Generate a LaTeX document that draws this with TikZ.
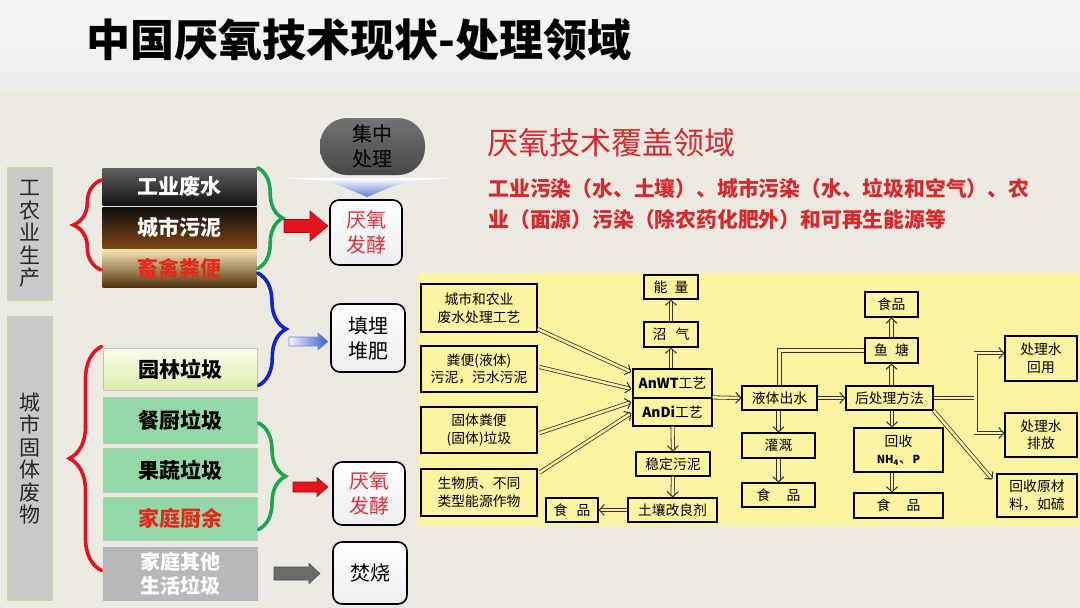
\documentclass[tikz,border=0pt]{standalone}
\usepackage{fontspec}
\setmainfont{Noto Sans CJK SC}
\usetikzlibrary{arrows.meta,decorations.pathreplacing,calc}
\newcommand{\myfs}[2]{\fontsize{#1}{#2}\selectfont}
\definecolor{bodybg}{HTML}{ECE9E2}
\definecolor{titletop}{HTML}{F6F6F5}
\definecolor{titlebot}{HTML}{EEEEEC}
\definecolor{sidegray}{HTML}{C9C9C9}
\definecolor{sideedge}{HTML}{C6D6A8}
\definecolor{bred}{HTML}{E3141E}
\definecolor{bgreen}{HTML}{1BA64E}
\definecolor{bblue}{HTML}{1424C8}
\definecolor{txtred}{HTML}{D42A2E}
\definecolor{panel}{HTML}{FAF4A2}
\definecolor{lgreen}{HTML}{93D8A6}
\definecolor{lgedge}{HTML}{B4CFA2}
\definecolor{fermred}{HTML}{E0303C}
\definecolor{catred}{HTML}{E42A1A}
\begin{document}
\begin{tikzpicture}[x=1pt,y=-1pt,
  sidebox/.style={draw=sideedge, line width=1.5pt, fill=sidegray, minimum width=44pt, inner sep=0pt, align=center, font=\myfs{21}{22.5}, text=black!85},
  catbox/.style={minimum width=154pt, inner sep=0pt, align=center, font=\myfs{21}{23}\bfseries},
  outbox/.style={draw=black, line width=1.6pt, rounded corners=9pt, top color=white, bottom color=black!7, inner sep=0pt, align=center, font=\myfs{20}{25}},
  flow/.style={draw=black, line width=1.2pt, fill=panel, inner sep=0pt, align=center, font=\myfs{13.8}{17.5}},
  dline/.style={draw=black!80, line width=0.8pt, double=panel, double distance=2.5pt},
  dar/.style={dline, -{Straight Barb[length=5pt, width=11pt, line width=1pt]}},
  bracedeco/.style={decorate, decoration={brace, amplitude=#1}, line width=3.6pt, line cap=round},
]
% backgrounds
\fill[bodybg] (0,0) rectangle (1080,608);
\shade[top color=titletop, bottom color=titlebot] (0,0) rectangle (1080,88);
\useasboundingbox (0,0) rectangle (1080,608);

\node[font=\myfs{44}{48}\bfseries] (title) at (359,40) {中国厌氧技术现状-处理领域};

% left side labels
\node[sidebox, minimum height=132pt] (agri) at (30,234) {工\\农\\业\\生\\产};
\node[sidebox, minimum height=283pt] (city) at (30,458.5) {城\\市\\固\\体\\废\\物};

% category boxes
\node[catbox, minimum height=37pt, top color=black!62, bottom color=black!92, text=white] (w1) at (179.5,186.5) {工业废水};
\node[catbox, minimum height=41pt, top color=black!95, bottom color={rgb,255:red,128;green,70;blue,20}, text=white] (w2) at (179.5,227.5) {城市污泥};
\node[catbox, minimum height=38pt, top color={rgb,255:red,246;green,228;blue,180}, middle color={rgb,255:red,205;green,150;blue,75}, bottom color={rgb,255:red,80;green,50;blue,12}, text=catred] (w3) at (179.5,268.5) {畜禽粪便};

\node[catbox, minimum height=42pt, draw=lgedge, line width=1pt, top color={rgb,255:red,250;green,253;blue,235}, bottom color={rgb,255:red,218;green,236;blue,172}, text=black] (g1) at (180,369) {园林垃圾};
\node[catbox, minimum height=46pt, draw=lgedge, line width=1pt, fill=lgreen, text=black] (g2) at (180,420) {餐厨垃圾};
\node[catbox, minimum height=44pt, draw=lgedge, line width=1pt, fill=lgreen, text=black] (g3) at (180,470) {果蔬垃圾};
\node[catbox, minimum height=43pt, draw=lgedge, line width=1pt, fill=lgreen, text=catred] (g4) at (180,518.5) {家庭厨余};
\node[catbox, minimum height=53pt, draw={rgb,255:red,170;green,185;blue,200}, line width=1pt, fill=black!28, text=white, font=\myfs{20}{24}\bfseries] (g5) at (180,573.5) {家庭其他\\生活垃圾};

% braces
\draw[bracedeco=28pt, bred] ($(w3.west)+(-1,1.5)$) -- ($(w1.west)+(-1,-6.5)$);
\draw[bracedeco=25pt, bgreen] ($(w1.north east)+(1,0)$) -- ($(w3.east)+(1,0)$);
\draw[bracedeco=28pt, bblue] ($(w3.east)+(1,4.5)$) -- ($(g1.south east)+(1,-5)$);
\draw[bracedeco=32pt, bred] ($(g5.west)+(-1,-3)$) -- ($(g1.north west)+(-1,-1)$);
\draw[bracedeco=27pt, bgreen] ($(g2.east)+(1,3)$) -- ($(g4.east)+(1,11)$);

% centralized treatment pill and chevron
\node[rounded corners=27pt, minimum width=105pt, minimum height=57pt, top color=black!55, middle color=black!10, bottom color=black!72, align=center, font=\myfs{20}{25}, inner sep=0pt] (cent) at (372.5,146.5) {集中\\处理};
\shade[top color=white, bottom color={rgb,255:red,94;green,128;blue,214}] (283,178) -- (452,178) .. controls (405,181) .. (367,197) .. controls (330,181) .. (283,178) -- cycle;

% outcome boxes
\node[outbox, minimum width=72pt, minimum height=65pt, text=fermred] (ferm1) at (366,232.5) {厌氧\\发酵};
\node[outbox, minimum width=74pt, minimum height=68pt] (landf) at (368,338) {填埋\\堆肥};
\node[outbox, minimum width=72pt, minimum height=63pt, text=fermred] (ferm2) at (369,493.5) {厌氧\\发酵};
\node[outbox, minimum width=74pt, minimum height=62pt] (burn) at (370,573) {焚烧};

% block arrows
\path[fill=bred, draw={rgb,255:red,170;green,10;blue,10}, line width=0.6pt]
  (284,219.5) -- (310,219.5) -- (310,211) -- (328,226) -- (310,241) -- (310,232.5) -- (284,232.5) -- cycle;
\path[left color={rgb,255:red,240;green,244;blue,255}, right color={rgb,255:red,60;green,90;blue,205}, draw={rgb,255:red,120;green,135;blue,200}, line width=0.6pt]
  (289,337) -- (318,337) -- (318,333) -- (328,341.5) -- (318,350) -- (318,346) -- (289,346) -- cycle;
\path[fill=bred, draw={rgb,255:red,170;green,10;blue,10}, line width=0.6pt]
  (293,482) -- (317,482) -- (317,477.5) -- (328,487) -- (317,496.5) -- (317,492) -- (293,492) -- cycle;
\path[fill=black!58, draw=black!70, line width=0.6pt]
  (274,567) -- (309,567) -- (309,563.5) -- (320,573.5) -- (309,583.5) -- (309,580) -- (274,580) -- cycle;

% red heading
\node[anchor=west, text=txtred, font=\myfs{31}{34}] (head) at (484,143) {厌氧技术覆盖领域};
\node[anchor=west, text=txtred, font=\myfs{20.8}{24}\bfseries] (sub1) at (485,188) {工业污染（水、土壤）、城市污染（水、垃圾和空气）、农};
\node[anchor=west, text=txtred, font=\myfs{20.8}{24}\bfseries] (sub2) at (485,220) {业（面源）污染（除农药化肥外）和可再生能源等};

% flowchart panel
\fill[panel] (418,273) rectangle (1080,526);

\node[flow, minimum width=116pt, minimum height=48pt] (in1) at (479,308) {城市和农业\\废水处理工艺};
\node[flow, minimum width=116pt, minimum height=46pt] (in2) at (479,369) {粪便(液体)\\污泥，污水污泥};
\node[flow, minimum width=116pt, minimum height=46pt] (in3) at (479,430) {固体粪便\\(固体)垃圾};
\node[flow, minimum width=116pt, minimum height=47pt] (in4) at (479,492.5) {生物质、不同\\类型能源作物};

\node[flow, minimum width=79pt, minimum height=29pt] (anwt) at (672.5,383.5) {{\bfseries AnWT}工艺};
\node[flow, minimum width=79pt, minimum height=28pt] (andi) at (672.5,412) {{\bfseries AnDi}工艺};
\node[flow, minimum width=54pt, minimum height=24pt] (energy) at (671,287) {能\hspace{7pt}量};
\node[flow, minimum width=54pt, minimum height=25pt] (biogas) at (671,334.5) {沼\hspace{9pt}气};
\node[flow, minimum width=74pt, minimum height=24pt] (sludge) at (673,464) {稳定污泥};
\node[flow, minimum width=89pt, minimum height=24pt] (soil) at (672.5,510) {土壤改良剂};
\node[flow, minimum width=52pt, minimum height=24pt] (food1) at (572,510) {食\hspace{9pt}品};

\node[flow, minimum width=75pt, minimum height=24pt] (liquid) at (779.5,398) {液体出水};
\node[flow, minimum width=87pt, minimum height=24pt] (post) at (889.5,398) {后处理方法};
\node[flow, minimum width=53pt, minimum height=25pt] (fish) at (891.5,350.5) {鱼\hspace{7pt}塘};
\node[flow, minimum width=53pt, minimum height=25pt] (food2) at (891.5,304.5) {食品};
\node[flow, minimum width=73pt, minimum height=25pt] (irr) at (778.5,445.5) {灌溉};
\node[flow, minimum width=73pt, minimum height=24pt] (food3) at (778.5,495) {食\hspace{16pt}品};
\node[flow, minimum width=89pt, minimum height=44pt] (rec) at (898.5,450) {回收\\{\bfseries\myfs{11}{13}NH\textsubscript{4}}、{\bfseries\myfs{11}{13}P}};
\node[flow, minimum width=89pt, minimum height=25pt] (food4) at (898.5,505.5) {食\hspace{16pt}品};
\node[flow, minimum width=72pt, minimum height=45pt] (reuse) at (1041,358.5) {处理水\\回用};
\node[flow, minimum width=72pt, minimum height=44pt] (disch) at (1041,435) {处理水\\排放};
\node[flow, minimum width=80pt, minimum height=43pt] (rawm) at (1037,495.5) {回收原材\\料，如硫};

% flowchart connectors
\draw[dar] ($(in1.east)+(0,21)$) -- ($(anwt.west)+(-1,-11.5)$);
\draw[dar] ($(in2.east)+(2,-2)$) -- ($(anwt.west)+(-1,5.5)$);
\draw[dar] ($(in3.east)+(2,3)$) -- ($(andi.west)+(-1,-10)$);
\draw[dar] ($(in4.east)+(2,-20)$) -- ($(andi.west)+(-1,1)$);
\draw[dar] (biogas.south |- anwt.north) -- (biogas.south);
\draw[dar] (biogas.north) -- (energy.south);
\draw[dar] (andi.south) -- (sludge.north);
\draw[dar] (sludge.south) -- (soil.north);
\draw[dar] (soil.west) -- (food1.east);
\draw[dar] (andi.north east) -- (liquid.west);
\draw[dar] (liquid.east) -- (post.west);
\draw[dline] (liquid.north) |- (fish.west);
\draw[dar] (irr.north |- liquid.south) -- (irr.north);
\draw[dar] (irr.south) -- (food3.north);
\draw[dar] (fish.south |- post.north) -- (fish.south);
\draw[dar] (fish.north) -- (food2.south);
\coordinate (pd) at ($(post.south)+(2.5,0)$);
\draw[dar] (pd) -- (pd |- rec.north);
\draw[dar] (rec.south -| pd) -- (pd |- food4.north);
\coordinate (br) at ($(post.east)+(42,0)$);
\draw[dar] (post.east) -- (br) |- ($(reuse.west)+(0,-5.5)$);
\draw[dar] ($(br)+(0,-2.5)$) |- ($(disch.west)+(0,-2)$);
\draw[dar] (post.south east) -- ($(rawm.north west)+(-4,6)$);
\end{tikzpicture}
\end{document}
